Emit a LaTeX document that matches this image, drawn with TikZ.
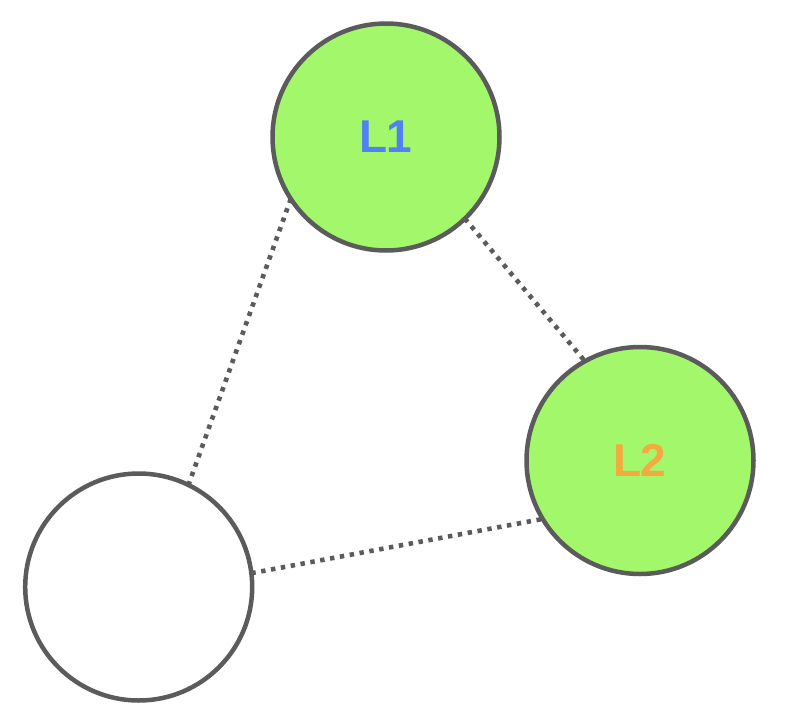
\documentclass[tikz,border=0pt]{standalone}
\usepackage{fontspec}
\setmainfont{Liberation Sans}
\begin{document}
\begin{tikzpicture}[x=1pt,y=1pt,
  ring/.style={circle,draw=ringgray,line width=4.5pt,minimum size=227pt,inner sep=0pt,outer sep=0pt},
  lnode/.style={ring,fill=nodegreen,font=\bfseries\fontsize{46}{46}\selectfont},
  link/.style={draw=ringgray,line width=4.6pt,dash pattern=on 4.4pt off 5.6pt}]
\definecolor{ringgray}{HTML}{5B5B5B}
\definecolor{nodegreen}{HTML}{A3F76B}
\definecolor{lblue}{HTML}{5082F6}
\definecolor{lorange}{HTML}{F5A93F}
\useasboundingbox (0,0) rectangle (785,-726);
\node[lnode,text=lblue] (l1) at (386,-137) {L\kern-1pt 1};
\node[lnode,text=lorange] (l2) at (640,-460.5) {L\kern-1pt 2};
\node[ring,fill=white] (c) at (138.7,-587) {};
\draw[link] (l1.213) -- (c.64);
\draw[link] (l1.-46.4) -- (l2.119.7);
\draw[link] (c.7.5) -- (l2.211.2);
\end{tikzpicture}
\end{document}
